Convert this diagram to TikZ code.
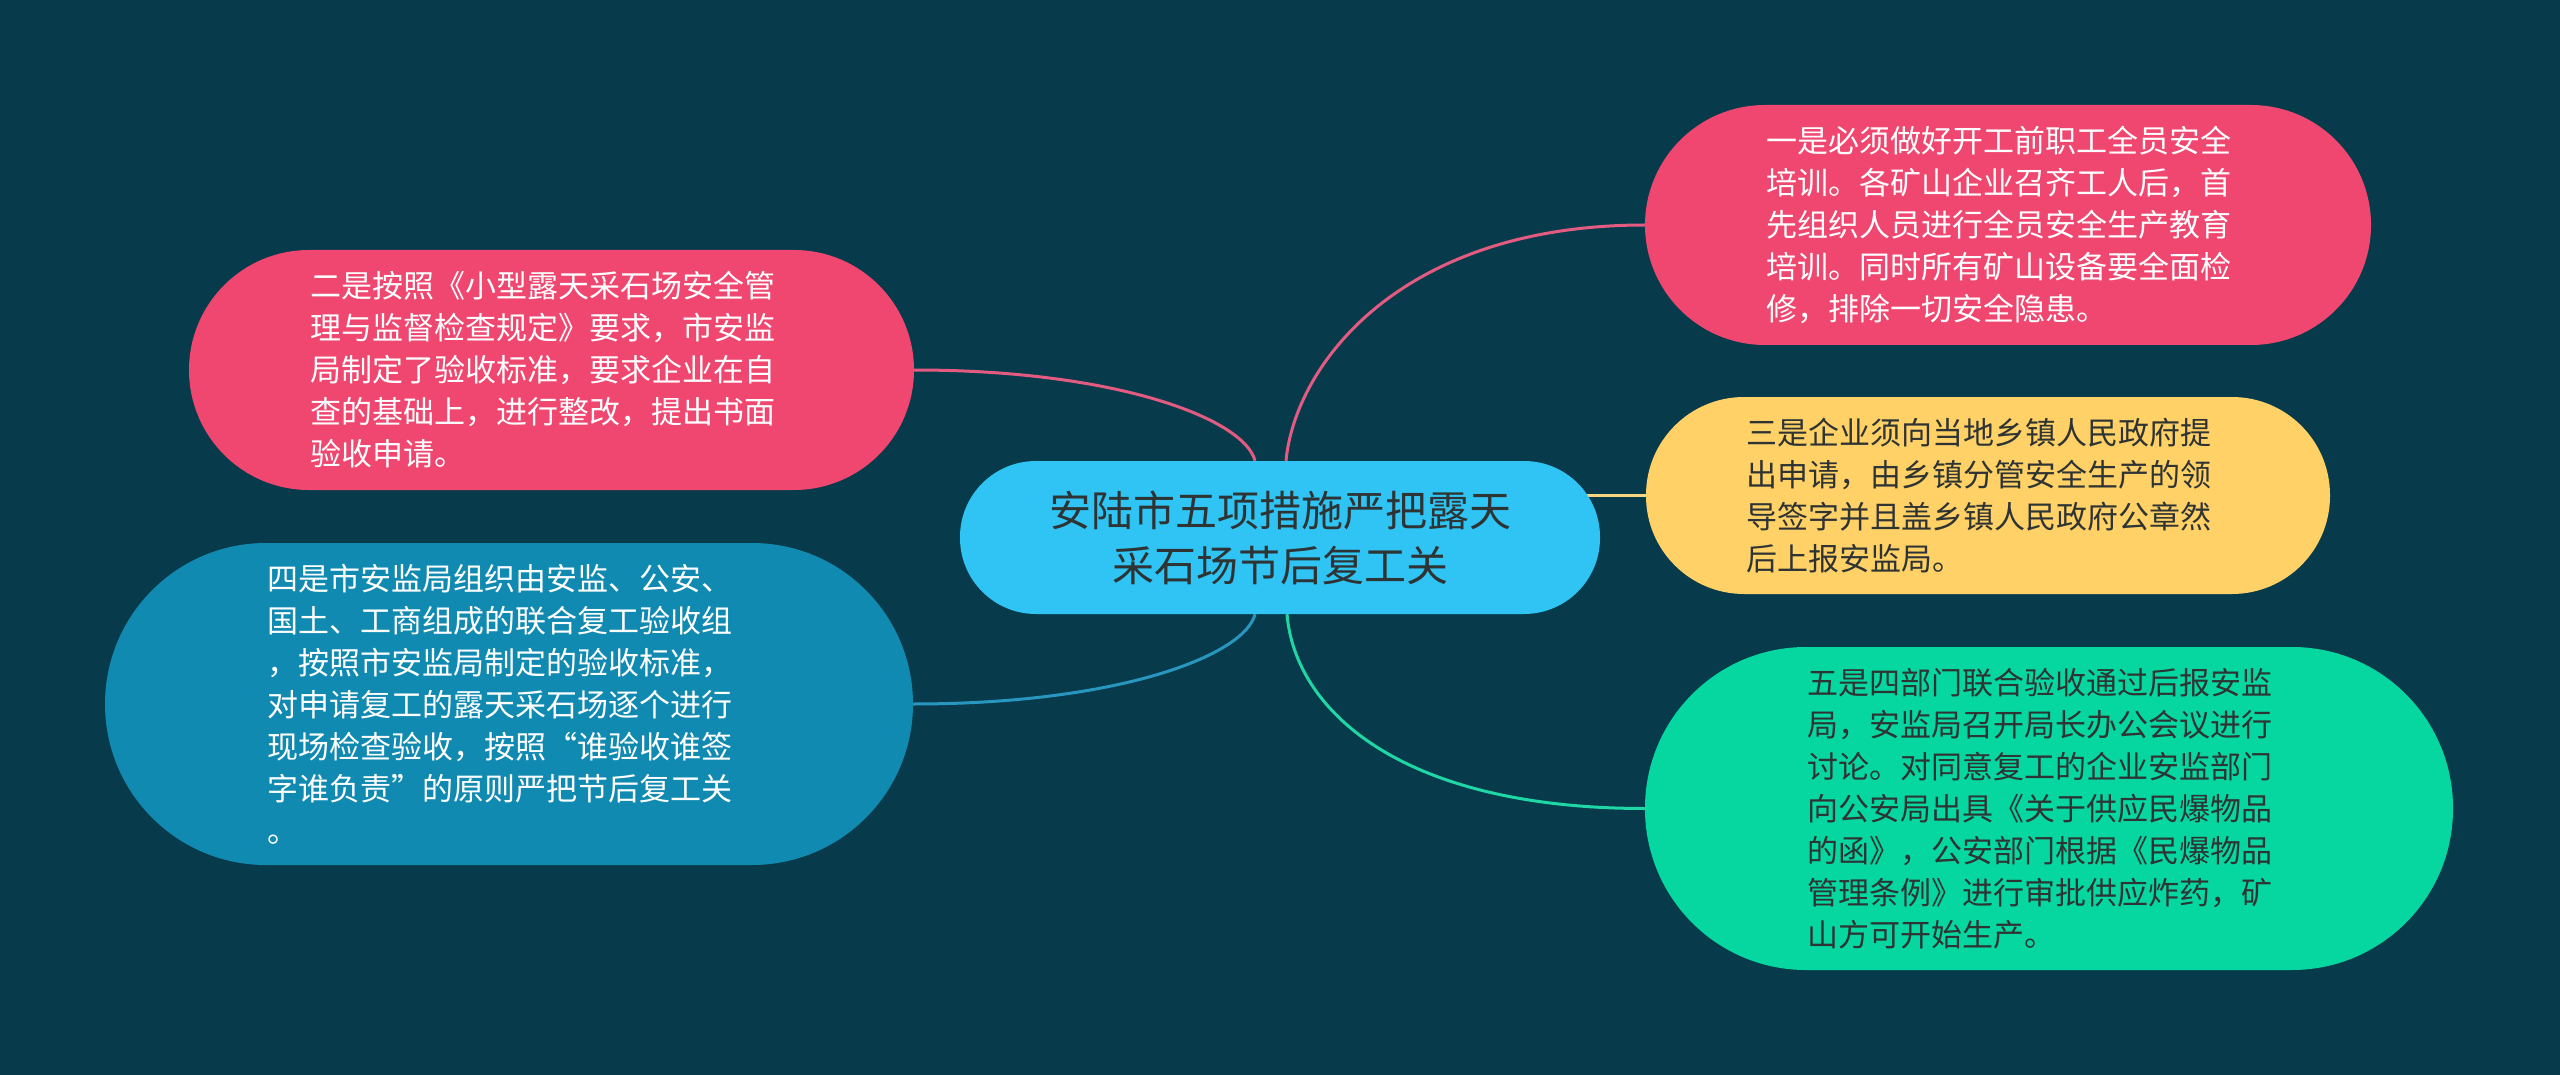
\documentclass[tikz,border=0pt]{standalone}
\usepackage{fontspec}
\setmainfont{Noto Sans CJK SC}
\usetikzlibrary{calc}
\definecolor{bgc}{HTML}{073B4C}
\definecolor{pinkc}{HTML}{EF476F}
\definecolor{yelc}{HTML}{FFD166}
\definecolor{grnc}{HTML}{06D6A0}
\definecolor{bluc}{HTML}{118AB2}
\definecolor{cenc}{HTML}{30C4F4}
\definecolor{darkt}{HTML}{2E3333}
\definecolor{pinkl}{HTML}{E45B82}
\definecolor{blul}{HTML}{2896BE}
\definecolor{grnl}{HTML}{1ED7A5}
\definecolor{yell}{HTML}{F8D67F}
\pgfdeclarelayer{bglayer}
\pgfdeclarelayer{edgelayer}
\pgfsetlayers{bglayer,edgelayer,main}
\begin{document}
\begin{tikzpicture}[x=1pt,y=-1pt,
  leaf/.style={rectangle, inner sep=0pt, align=left, text width=483pt,
    font=\fontsize{31}{42}\selectfont},
  conn/.style={line width=3pt}
]
\begin{pgfonlayer}{bglayer}
  \fill[bgc] (0,0) rectangle (2560,1075);
\end{pgfonlayer}
\useasboundingbox (0,0) rectangle (2560,1075);

\node[rectangle, fill=cenc, rounded corners=76pt, minimum width=640pt, minimum height=153pt,
  inner sep=0pt, align=center, text=darkt, font=\fontsize{42}{55}\selectfont] (c) at (1280,537.5)
  {安陆市五项措施严把露天\\采石场节后复工关};

\node[leaf, fill=pinkc, text=white, rounded corners=120pt, minimum width=726pt, minimum height=240pt] (one) at (2008,225)
  {一是必须做好开工前职工全员安全\\培训。各矿山企业召齐工人后，首\\先组织人员进行全员安全生产教育\\培训。同时所有矿山设备要全面检\\修，排除一切安全隐患。};

\node[leaf, fill=yelc, text=darkt, rounded corners=98pt, minimum width=684pt, minimum height=197pt] (three) at (1988,495.5)
  {三是企业须向当地乡镇人民政府提\\出申请，由乡镇分管安全生产的领\\导签字并且盖乡镇人民政府公章然\\后上报安监局。};

\node[leaf, fill=grnc, text=darkt, rounded corners=161pt, minimum width=808pt, minimum height=323pt] (five) at (2049,808.5)
  {五是四部门联合验收通过后报安监\\局，安监局召开局长办公会议进行\\讨论。对同意复工的企业安监部门\\向公安局出具《关于供应民爆物品\\的函》，公安部门根据《民爆物品\\管理条例》进行审批供应炸药，矿\\山方可开始生产。};

\node[leaf, fill=pinkc, text=white, rounded corners=120pt, minimum width=725pt, minimum height=240pt] (two) at (551.5,370)
  {二是按照《小型露天采石场安全管\\理与监督检查规定》要求，市安监\\局制定了验收标准，要求企业在自\\查的基础上，进行整改，提出书面\\验收申请。};

\node[leaf, fill=bluc, text=white, rounded corners=161pt, minimum width=808pt, minimum height=322pt] (four) at (509,704)
  {四是市安监局组织由安监、公安、\\国土、工商组成的联合复工验收组\\，按照市安监局制定的验收标准，\\对申请复工的露天采石场逐个进行\\现场检查验收，按照“谁验收谁签\\字谁负责”的原则严把节后复工关\\。};

\begin{pgfonlayer}{edgelayer}
  \draw[conn, pinkl] ($(c.north)+(6,0)$) .. controls (1295,365) and (1400,225) .. (one.west);
  \draw[conn, pinkl] ($(c.north)+(-25,0)$) .. controls (1245,420) and (1120,370) .. (two.east);
  \draw[conn, blul] ($(c.south)+(-25,0)$) .. controls (1245,655) and (1120,704) .. (four.east);
  \draw[conn, grnl] ($(c.south)+(7,0)$) .. controls (1295,710) and (1400,808.5) .. (five.west);
  \draw[conn, yell] (three.west) -- (c.center |- three.west);
\end{pgfonlayer}
\end{tikzpicture}
\end{document}
